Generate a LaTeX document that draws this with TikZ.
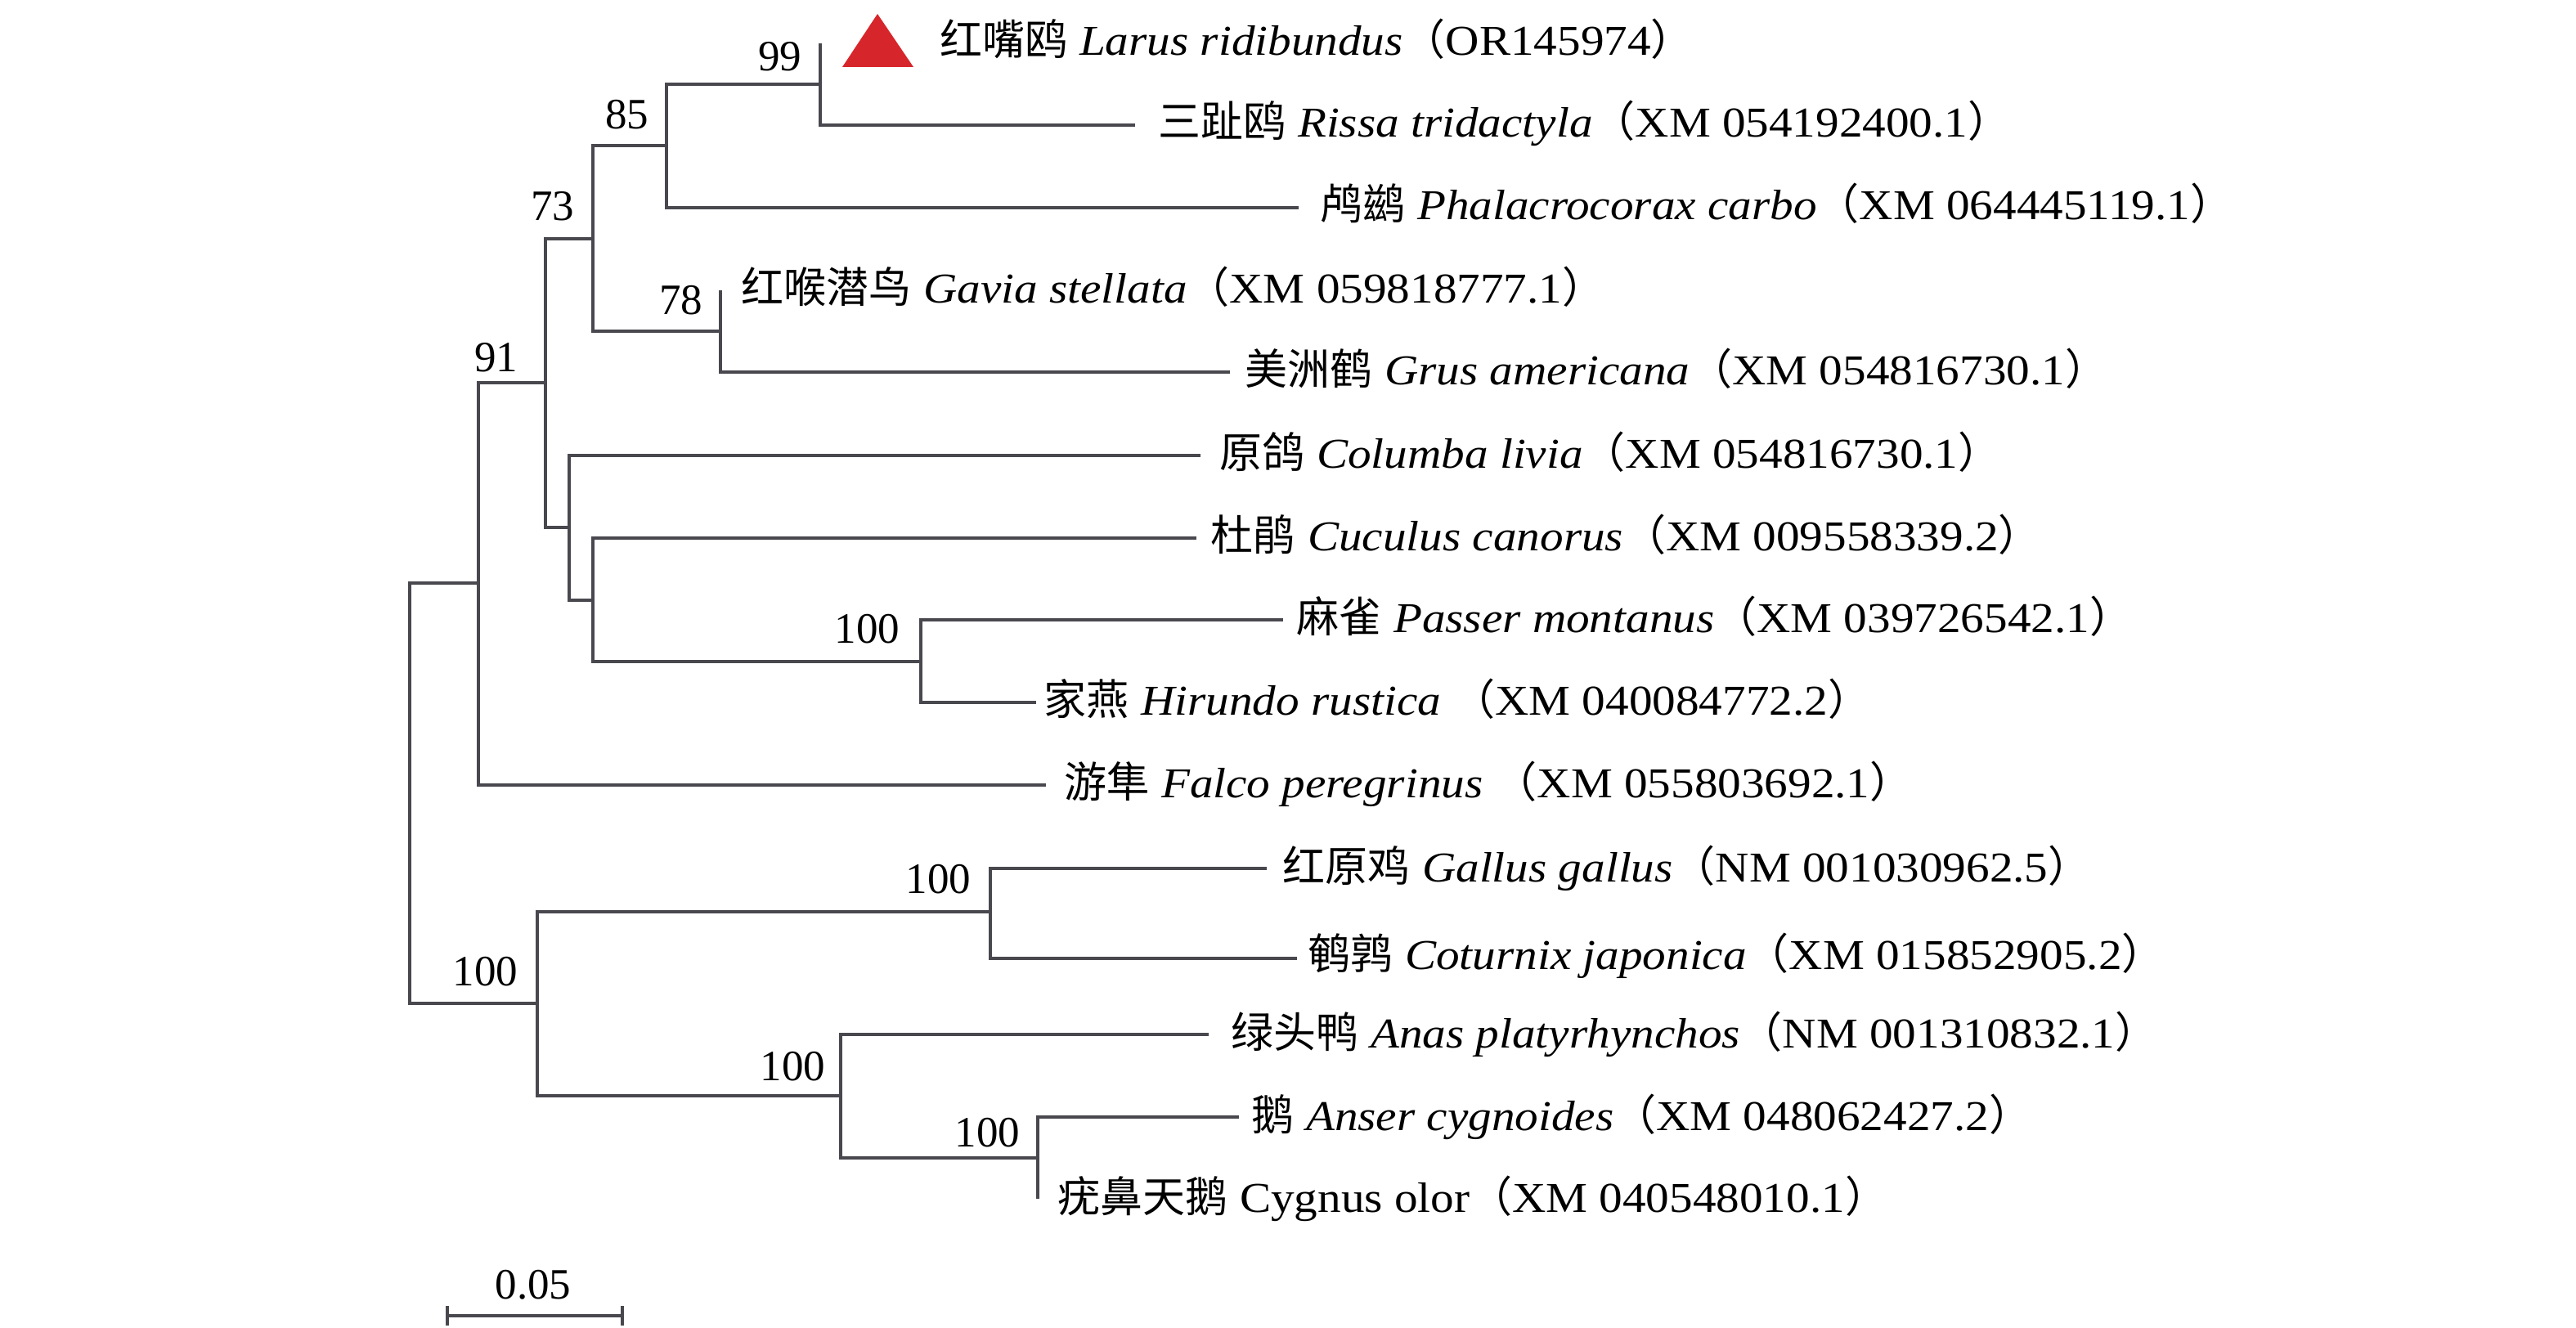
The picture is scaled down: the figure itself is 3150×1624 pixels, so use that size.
\documentclass[tikz,border=0pt]{standalone}
\usepackage{fontspec}
\setmainfont{Liberation Serif}[FakeStretch=1.1]
\newfontfamily\cjk{Noto Sans CJK SC}
\newfontfamily\bsfont{Liberation Serif}
\definecolor{branchc}{RGB}{72,72,78}
\definecolor{tri}{RGB}{215,38,43}
\newcommand{\cj}[1]{{\cjk #1}}
\begin{document}
\begin{tikzpicture}[x=0.25pt,y=-0.25pt,
  branch/.style={draw=branchc,line width=1pt},
  leaf/.style={inner sep=0pt,anchor=base west,font=\fontsize{13}{15}\selectfont},
  bs/.style={inner sep=0pt,anchor=base east,font=\bsfont\fontsize{13.25}{16}\selectfont}]
\useasboundingbox (0,0) rectangle (3150,1624);
\fill[white] (0,0) rectangle (3150,1624);
% leaf tips
\coordinate (t1) at (1003,53);
\coordinate (t2) at (1388,153);
\coordinate (t3) at (1588,254);
\coordinate (t4) at (881,355);
\coordinate (t5) at (1504,455);
\coordinate (t6) at (1468,557);
\coordinate (t7) at (1463,658);
\coordinate (t8) at (1569,758);
\coordinate (t9) at (1267,859);
\coordinate (t10) at (1279,960);
\coordinate (t11) at (1549,1062);
\coordinate (t12) at (1586,1172);
\coordinate (t13) at (1478,1265);
\coordinate (t14) at (1515,1366);
\coordinate (t15) at (1269,1466);
% internal nodes
\coordinate (n99) at (1003,103);
\coordinate (n85) at (815,178);
\coordinate (n78) at (881,405);
\coordinate (n73) at (725,292);
\coordinate (nP) at (1126,809);
\coordinate (nCP) at (725,734);
\coordinate (nC) at (696,645);
\coordinate (n91) at (667,468);
\coordinate (nF) at (585,713);
\coordinate (nG) at (1211,1115);
\coordinate (nAC) at (1269,1416);
\coordinate (nA) at (1028,1340);
\coordinate (nGA) at (657,1227);
\coordinate (root) at (501,970);
% branches
\draw[branch] (n99) |- (t1);
\draw[branch] (n99) |- (t2);
\draw[branch] (n85) |- (n99);
\draw[branch] (n85) |- (t3);
\draw[branch] (n78) |- (t4);
\draw[branch] (n78) |- (t5);
\draw[branch] (n73) |- (n85);
\draw[branch] (n73) |- (n78);
\draw[branch] (nP) |- (t8);
\draw[branch] (nP) |- (t9);
\draw[branch] (nCP) |- (t7);
\draw[branch] (nCP) |- (nP);
\draw[branch] (nC) |- (t6);
\draw[branch] (nC) |- (nCP);
\draw[branch] (n91) |- (n73);
\draw[branch] (n91) |- (nC);
\draw[branch] (nF) |- (n91);
\draw[branch] (nF) |- (t10);
\draw[branch] (nG) |- (t11);
\draw[branch] (nG) |- (t12);
\draw[branch] (nAC) |- (t14);
\draw[branch] (nAC) |- (t15);
\draw[branch] (nA) |- (t13);
\draw[branch] (nA) |- (nAC);
\draw[branch] (nGA) |- (nG);
\draw[branch] (nGA) |- (nA);
\draw[branch] (root) |- (nF);
\draw[branch] (root) |- (nGA);
% marker triangle
\fill[tri] (1030,82) -- (1073,17) -- (1117,82) -- cycle;
% leaf labels
\node[leaf] (L1) at (1149,68) {\cj{红嘴鸥} \textit{Larus ridibundus}\cj{（}OR145974\cj{）}};
\node[leaf] (L2) at (1416,168) {\cj{三趾鸥} \textit{Rissa tridactyla}\cj{（}XM 054192400.1\cj{）}};
\node[leaf] (L3) at (1614,269) {\cj{鸬鹚} \textit{Phalacrocorax carbo}\cj{（}XM 064445119.1\cj{）}};
\node[leaf] (L4) at (906,371) {\cj{红喉潜鸟} \textit{Gavia stellata}\cj{（}XM 059818777.1\cj{）}};
\node[leaf] (L5) at (1522,471) {\cj{美洲鹤} \textit{Grus americana}\cj{（}XM 054816730.1\cj{）}};
\node[leaf] (L6) at (1491,573) {\cj{原鸽} \textit{Columba livia}\cj{（}XM 054816730.1\cj{）}};
\node[leaf] (L7) at (1480,674) {\cj{杜鹃} \textit{Cuculus canorus}\cj{（}XM 009558339.2\cj{）}};
\node[leaf] (L8) at (1585,774) {\cj{麻雀} \textit{Passer montanus}\cj{（}XM 039726542.1\cj{）}};
\node[leaf] (L9) at (1276,875) {\cj{家燕} \textit{Hirundo rustica} \cj{（}XM 040084772.2\cj{）}};
\node[leaf] (L10) at (1301,976) {\cj{游隼} \textit{Falco peregrinus} \cj{（}XM 055803692.1\cj{）}};
\node[leaf] (L11) at (1568,1078) {\cj{红原鸡} \textit{Gallus gallus}\cj{（}NM 001030962.5\cj{）}};
\node[leaf] (L12) at (1599,1186) {\cj{鹌鹑} \textit{Coturnix japonica}\cj{（}XM 015852905.2\cj{）}};
\node[leaf] (L13) at (1505,1281) {\cj{绿头鸭} \textit{Anas platyrhynchos}\cj{（}NM 001310832.1\cj{）}};
\node[leaf] (L14) at (1530,1382) {\cj{鹅} \textit{Anser cygnoides}\cj{（}XM 048062427.2\cj{）}};
\node[leaf] (L15) at (1293,1482) {\cj{疣鼻天鹅} Cygnus olor\cj{（}XM 040548010.1\cj{）}};
% bootstrap values
\node[bs] (b99) at (981,87) {99};
\node[bs] (b85) at (794,158) {85};
\node[bs] (b73) at (703,270) {73};
\node[bs] (b78) at (860,385) {78};
\node[bs] (b91) at (634,455) {91};
\node[bs] (bP) at (1101,787) {100};
\node[bs] (bG) at (1188,1092) {100};
\node[bs] (bGA) at (634,1206) {100};
\node[bs] (bA) at (1010,1322) {100};
\node[bs] (bAC) at (1248,1402) {100};
% scale bar
\coordinate (s1) at (547,1609);
\coordinate (s2) at (761,1609);
\coordinate (s1a) at (547,1597);
\coordinate (s1b) at (547,1621);
\coordinate (s2a) at (761,1597);
\coordinate (s2b) at (761,1621);
\draw[branch] (s1) -- (s2);
\draw[branch] (s1a) -- (s1b);
\draw[branch] (s2a) -- (s2b);
\node[bs,anchor=base] (sl) at (652,1588) {0.05};
\end{tikzpicture}
\end{document}
